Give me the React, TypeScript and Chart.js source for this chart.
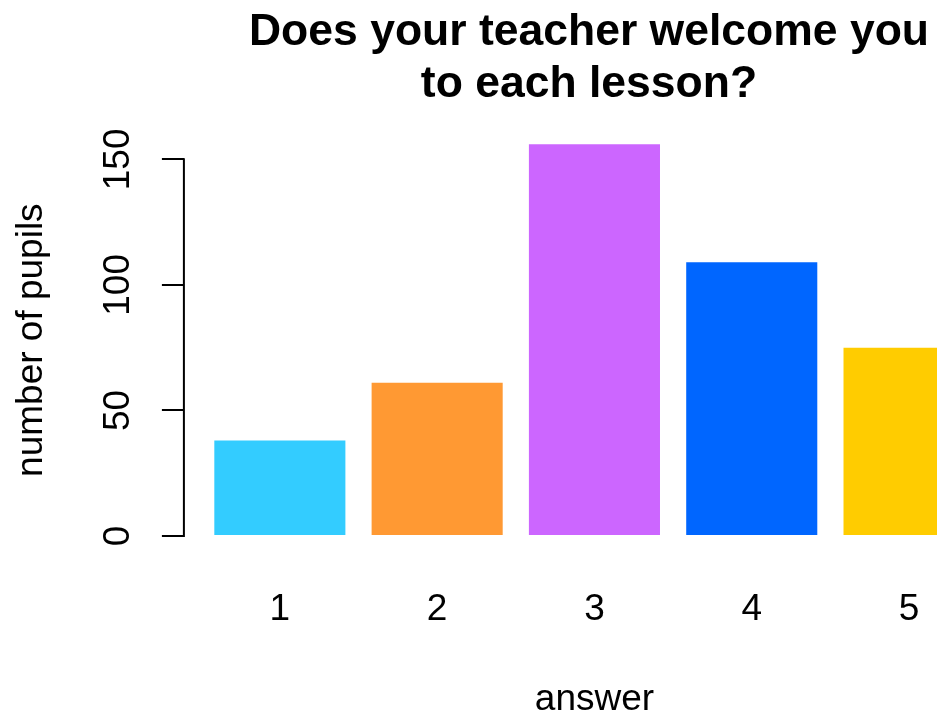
import React, { useEffect, useRef } from "react";
import { Chart, registerables } from "chart.js";

Chart.register(...registerables);

// ---- data ----
const categories = ["1", "2", "3", "4", "5"];
const pupils = [38, 61, 156, 109, 75];
const barColors = ["#33CCFF", "#FF9933", "#CC66FF", "#0066FF", "#FFCC00"];
const yTicks = [0, 50, 100, 150];
const titleLines = ["Does your teacher welcome you", "to each lesson?"];
const xTitle = "answer";
const yTitle = "number of pupils";

// ---- styling ----
const FONT = "'Liberation Sans', Arial, Helvetica, sans-serif";
const AXIS_SIZE = 37;
const TITLE_SIZE = 44.5;
const CANVAS_W = 1178;
const CANVAS_H = 725;

// R barplot geometry: bar width 1, space 0.2 -> bar fraction of slot
const SPACE = 0.2;
const barFrac = 1 / (1 + SPACE);
const positions = categories.map((_, i) => i + 1);
const xLo = positions[0] - barFrac / 2;
const xHi = positions[positions.length - 1] + barFrac / 2;
const xPad = 0.04 * (xHi - xLo);
const yTop = Math.max(...pupils);
const yPad = 0.04 * yTop;

const axisLinePlugin = {
  id: "rAxisLine",
  afterDraw(chart: any) {
    const ys = chart.scales.y;
    const ctx = chart.ctx;
    const x = ys.right;
    ctx.save();
    ctx.strokeStyle = "#000";
    ctx.lineWidth = 2;
    ctx.beginPath();
    ctx.moveTo(x, ys.getPixelForValue(yTicks[0]) + 1);
    ctx.lineTo(x, ys.getPixelForValue(yTicks[yTicks.length - 1]) - 1);
    ctx.stroke();
    ctx.restore();
  },
};

export default function App() {
  const ref = useRef<HTMLCanvasElement | null>(null);

  useEffect(() => {
    if (!ref.current) return;
    const axisFont = { family: FONT, size: AXIS_SIZE };
    const chart = new Chart(ref.current, {
      type: "bar",
      data: {
        datasets: [
          {
            data: positions.map((x, i) => ({ x, y: pupils[i] })),
            backgroundColor: barColors,
            borderWidth: 0,
            categoryPercentage: 1,
            barPercentage: barFrac,
          },
        ],
      },
      options: {
        responsive: false,
        animation: false,
        events: [],
        layout: { padding: 0 },
        plugins: {
          legend: { display: false },
          tooltip: { enabled: false },
          title: {
            display: true,
            text: titleLines,
            color: "#000",
            font: { family: FONT, size: TITLE_SIZE, weight: "bold", lineHeight: 52 / TITLE_SIZE },
            padding: { top: 6.6, bottom: 18 },
          },
        },
        scales: {
          x: {
            type: "linear",
            offset: false,
            min: xLo - xPad,
            max: xHi + xPad,
            afterBuildTicks: (s: any) => {
              s.ticks = positions.map((v) => ({ value: v }));
            },
            ticks: {
              callback: (v: any) => {
                const i = positions.indexOf(Number(v));
                return i >= 0 ? categories[i] : "";
              },
              color: "#000",
              font: axisFont,
              padding: 35.8,
              autoSkip: false,
              maxRotation: 0,
            },
            grid: { display: false, drawTicks: false, offset: false },
            border: { display: false },
            title: {
              display: true,
              text: xTitle,
              color: "#000",
              font: axisFont,
              padding: { top: 10.3, bottom: 2.6 },
            },
          },
          y: {
            type: "linear",
            min: -yPad,
            max: yTop + yPad,
            afterBuildTicks: (s: any) => {
              s.ticks = yTicks.map((v) => ({ value: v }));
            },
            ticks: {
              minRotation: 90,
              maxRotation: 90,
              crossAlign: "center",
              padding: 12,
              color: "#000",
              font: axisFont,
              autoSkip: false,
              callback: (v: any) => String(v),
            },
            grid: {
              drawOnChartArea: false,
              drawTicks: true,
              tickLength: 22,
              lineWidth: 2,
              tickWidth: 2,
              tickColor: "#000",
              color: "#000",
            },
            border: { display: false },
            title: {
              display: true,
              text: yTitle,
              color: "#000",
              font: axisFont,
              padding: { top: 9.8, bottom: 39.3 },
            },
          },
          yRight: {
            type: "linear",
            position: "right",
            display: true,
            min: 0,
            max: 1,
            ticks: { display: false },
            grid: { display: false, drawTicks: false },
            border: { display: false },
            afterFit: (s: any) => {
              s.width = 173;
            },
          },
        },
      } as any,
      plugins: [axisLinePlugin],
    });
    return () => chart.destroy();
  }, []);

  return (
    <div
      style={{
        position: "fixed",
        left: 0,
        top: 0,
        width: 937,
        height: 713,
        overflow: "hidden",
        background: "#fff",
      }}
    >
      <canvas ref={ref} width={CANVAS_W} height={CANVAS_H} style={{ display: "block" }} />
    </div>
  );
}
